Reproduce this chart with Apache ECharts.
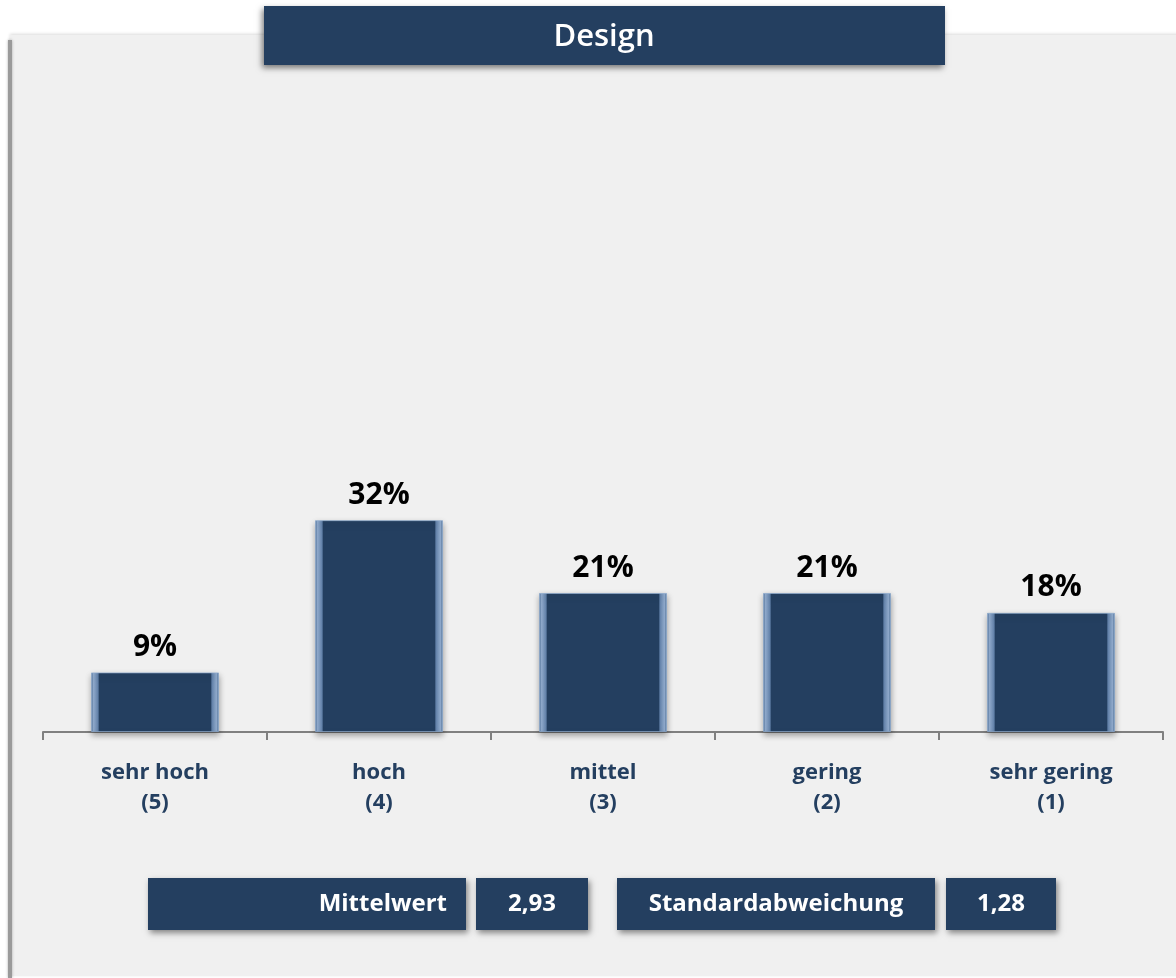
<!DOCTYPE html>
<html>
<head>
<meta charset="utf-8">
<script src="https://cdn.jsdelivr.net/npm/echarts@6/dist/echarts.min.js"></script>
<style>
  html, body { margin: 0; padding: 0; background: #ffffff; }
  #chart { width: 1176px; height: 978px; }
</style>
</head>
<body>
<div id="chart"></div>
<script>
// Ratings for "Design"
const categories = ['sehr hoch\n(5)', 'hoch\n(4)', 'mittel\n(3)', 'gering\n(2)', 'sehr gering\n(1)'];
const shares = [9, 32, 21, 21, 18];
const meanValue = '2,93';
const stdValue = '1,28';

const navy = '#243F60';
const font = '"Open Sans", "Noto Sans", sans-serif';

// bevelled bar face: light strips on both sides
const barFill = {
  type: 'linear', x: 0, y: 0, x2: 1, y2: 0,
  colorStops: [
    { offset: 0, color: '#4a6a93' },
    { offset: 0.02, color: '#92adcf' },
    { offset: 0.055, color: '#6281a9' },
    { offset: 0.065, color: navy },
    { offset: 0.935, color: navy },
    { offset: 0.945, color: '#6281a9' },
    { offset: 0.98, color: '#92adcf' },
    { offset: 1, color: '#4a6a93' }
  ]
};

function box(x, y, w, h, text, align) {
  const tx = align === 'right' ? x + w - 19 : x + w / 2;
  return [
    {
      type: 'rect', z: 5,
      shape: { x: x, y: y, width: w, height: h },
      style: { fill: navy, shadowColor: 'rgba(0,0,0,0.45)', shadowBlur: 6, shadowOffsetX: 2, shadowOffsetY: 3 }
    },
    {
      type: 'text', z: 6, x: tx, y: y + h / 2,
      style: { text: text, fill: '#ffffff', font: '700 24px ' + font, align: align || 'center', verticalAlign: 'middle' }
    }
  ];
}

const chart = echarts.init(document.getElementById('chart'), null, { renderer: 'canvas' });

chart.setOption({
  backgroundColor: '#ffffff',
  animation: false,
  grid: { left: 43, right: 13, top: 70, bottom: 246, containLabel: false },
  xAxis: {
    type: 'category',
    data: categories,
    axisLine: { show: true, lineStyle: { color: '#808080', width: 2 } },
    axisTick: { show: true, alignWithLabel: false, length: 8, lineStyle: { color: '#808080', width: 2 } },
    axisLabel: {
      color: navy, fontFamily: font, fontWeight: 700, fontSize: 22,
      lineHeight: 30, margin: 26, interval: 0
    }
  },
  yAxis: {
    type: 'value', min: 0, max: 100, show: false,
    splitLine: { show: false }
  },
  graphic: [
    // panel with shaded left edge
    {
      type: 'rect', z: -10,
      shape: { x: 10, y: 35, width: 1176, height: 941 },
      style: { fill: '#f0f0f0', shadowColor: 'rgba(0,0,0,0.15)', shadowBlur: 3, shadowOffsetY: -1 }
    },
    {
      type: 'rect', z: -9,
      shape: { x: 8, y: 40, width: 4, height: 938 },
      style: { fill: '#9a9a9a', shadowColor: 'rgba(0,0,0,0.3)', shadowBlur: 3 }
    },
    // title bar
    {
      type: 'rect', z: 5,
      shape: { x: 264, y: 6, width: 681, height: 59 },
      style: { fill: navy, shadowColor: 'rgba(0,0,0,0.5)', shadowBlur: 6, shadowOffsetX: -2, shadowOffsetY: 3 }
    },
    {
      type: 'text', z: 6, x: 604, y: 37,
      style: { text: 'Design', fill: '#ffffff', font: '600 31px ' + font, align: 'center', verticalAlign: 'middle' }
    },
    ...box(148, 878, 318, 52, 'Mittelwert', 'right'),
    ...box(476, 878, 112, 52, meanValue),
    ...box(617, 878, 318, 52, 'Standardabweichung'),
    ...box(946, 878, 110, 52, stdValue)
  ],
  series: [{
    type: 'bar',
    data: shares,
    barWidth: 128,
    itemStyle: {
      color: barFill,
      borderColor: 'rgba(140,170,205,0.7)', borderWidth: 1,
      shadowColor: 'rgba(0,0,0,0.35)', shadowBlur: 6, shadowOffsetY: 3
    },
    label: {
      show: true, position: 'top', distance: 10,
      formatter: '{c}%',
      color: '#000000', fontFamily: font, fontWeight: 700, fontSize: 30
    }
  }]
});
</script>
</body>
</html>
